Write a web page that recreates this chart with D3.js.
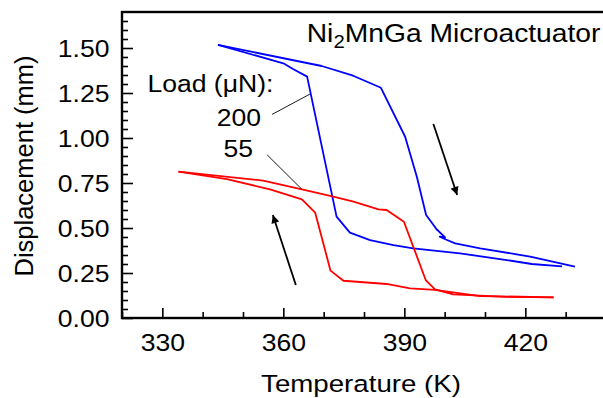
<!DOCTYPE html>
<html>
<head>
<meta charset="utf-8">
<script src="https://cdn.jsdelivr.net/npm/d3@7"></script>
<style>
  html, body { margin: 0; padding: 0; background: #fff; }
  svg { display: block; font-family: "Liberation Sans", Arial, Helvetica, sans-serif; }
</style>
</head>
<body>
<svg id="chart" width="603" height="398"></svg>
<script>
// ---------- data ----------
// 200 µN load, heating branch (upper, goes right then drops)
const heat200T = [343.8, 369.5, 377.3, 384.2, 390.2, 393.1, 395.4, 398.0, 400.1, 398.8, 400.3, 402.6, 408.8, 421.2, 432.3];
const heat200D = [1.517, 1.400, 1.346, 1.279, 1.007, 0.785, 0.572, 0.493, 0.448, 0.452, 0.436, 0.415, 0.387, 0.341, 0.285];
// 200 µN load, cooling branch (lower, goes left then rises)
const cool200T = [429.1, 421.6, 415.4, 403.8, 392.2, 387.3, 381.5, 376.5, 373.2, 365.9, 362.4, 360.0, 343.8];
const cool200D = [0.287, 0.300, 0.322, 0.359, 0.387, 0.405, 0.433, 0.474, 0.563, 1.341, 1.383, 1.415, 1.517];
// 55 µN load, heating branch
const heat55T = [334.0, 355.0, 364.6, 372.4, 377.4, 383.6, 385.6, 389.9, 395.3, 397.6, 402.1, 415.4, 427.0];
const heat55D = [0.813, 0.763, 0.715, 0.674, 0.646, 0.604, 0.600, 0.535, 0.211, 0.159, 0.131, 0.117, 0.115];
// 55 µN load, cooling branch
const cool55T = [427.0, 408.8, 397.6, 391.4, 385.6, 374.9, 371.7, 367.9, 364.6, 356.7, 346.0, 334.0];
const cool55D = [0.115, 0.122, 0.156, 0.165, 0.189, 0.207, 0.263, 0.585, 0.659, 0.715, 0.771, 0.813];

const xMajorTicks = [330, 360, 390, 420];
const xMinorTicks = [320, 340, 350, 370, 380, 400, 410, 430, 440];
const yMajorTicks = [0.00, 0.25, 0.50, 0.75, 1.00, 1.25, 1.50];
const yMinorTicks = [0.05,0.10,0.15,0.20,0.30,0.35,0.40,0.45,0.55,0.60,0.65,0.70,0.80,0.85,0.90,0.95,1.05,1.10,1.15,1.20,1.30,1.35,1.40,1.45,1.55,1.60,1.65];

const xTitle = "Temperature (K)";
const yTitle = "Displacement (mm)";
const loadLabel = "Load (μN):";
const loadValues = ["200", "55"];

// ---------- layout ----------
const W = 603, H = 398;
const margin = { left: 122, top: 12, bottomY: 318, rightX: 606 };
const SX = 1.13; // horizontal stretch of the reference's lettering

const svg = d3.select("#chart");
const x = d3.scaleLinear().domain([320, 440]).range([margin.left, margin.rightX]);
const y = d3.scaleLinear().domain([0, 1.7]).range([margin.bottomY, margin.top]);

// ---------- axes ----------
function styleAxis(g) {
  g.select(".domain").remove();
  g.selectAll(".tick line").attr("stroke", "#000").attr("stroke-width", 1.6);
}

// x minor
svg.append("g").attr("transform", `translate(0,${margin.bottomY})`)
  .call(d3.axisBottom(x).tickValues(xMinorTicks).tickFormat("").tickSizeInner(-6).tickSizeOuter(0))
  .call(styleAxis);
// x major
const gx = svg.append("g").attr("transform", `translate(0,${margin.bottomY})`)
  .call(d3.axisBottom(x).tickValues(xMajorTicks).tickFormat(d3.format("d")).tickSizeInner(-10).tickSizeOuter(0))
  .call(styleAxis);
gx.selectAll(".tick text")
  .attr("fill", "#000").attr("font-size", 23.5)
  .attr("font-family", "Liberation Sans, Arial, sans-serif")
  .attr("dy", 0).attr("y", 33)
  .attr("transform", `scale(${SX},1)`);

// y minor
svg.append("g").attr("transform", `translate(${margin.left},0)`)
  .call(d3.axisLeft(y).tickValues(yMinorTicks).tickFormat("").tickSizeInner(-6).tickSizeOuter(0))
  .call(styleAxis);
// y major
const gy = svg.append("g").attr("transform", `translate(${margin.left},0)`)
  .call(d3.axisLeft(y).tickValues(yMajorTicks).tickFormat(d3.format(".2f")).tickSizeInner(-11).tickSizeOuter(0))
  .call(styleAxis);
gy.selectAll(".tick text")
  .attr("fill", "#000").attr("font-size", 23.5)
  .attr("font-family", "Liberation Sans, Arial, sans-serif")
  .attr("x", -12.5 / SX).attr("dy", "0.35em")
  .attr("transform", `scale(${SX},1)`);

// frame
svg.append("rect")
  .attr("x", x(320)).attr("y", y(1.7))
  .attr("width", x(440) - x(320)).attr("height", y(0) - y(1.7))
  .attr("fill", "none").attr("stroke", "#000").attr("stroke-width", 2.4);

// ---------- curves ----------
const line = d3.line().x(d => x(d[0])).y(d => y(d[1]));
function drawSeries(T, D, color) {
  svg.append("path")
    .datum(d3.zip(T, D))
    .attr("d", line)
    .attr("fill", "none")
    .attr("stroke", color)
    .attr("stroke-width", 1.8)
    .attr("stroke-linejoin", "round");
}
drawSeries(heat200T, heat200D, "#0000ff");
drawSeries(cool200T, cool200D, "#0000ff");
drawSeries(heat55T, heat55D, "#ff0000");
drawSeries(cool55T, cool55D, "#ff0000");

// ---------- annotations ----------
const defs = svg.append("defs");
defs.append("marker")
  .attr("id", "ah").attr("viewBox", "0 0 10 10")
  .attr("refX", 10).attr("refY", 5)
  .attr("markerWidth", 5.5).attr("markerHeight", 4.5)
  .attr("markerUnits", "strokeWidth")
  .attr("orient", "auto")
  .append("path").attr("d", "M0,0 L10,5 L0,10 Z").attr("fill", "#000");

// direction arrows [T1, D1, T2, D2]
const arrowHeat = [397.2, 1.078, 403.1, 0.683];
const arrowCool = [363.1, 0.183, 357.4, 0.572];
[arrowHeat, arrowCool].forEach(a => {
  svg.append("line")
    .attr("x1", x(a[0])).attr("y1", y(a[1]))
    .attr("x2", x(a[2])).attr("y2", y(a[3]))
    .attr("stroke", "#000").attr("stroke-width", 1.8)
    .attr("marker-end", "url(#ah)");
});

// leader lines from the load labels to the curves
const leader200 = [357.2, 1.131, 366.6, 1.244];
const leader55 = [356.0, 0.906, 364.6, 0.715];
[leader200, leader55].forEach(a => {
  svg.append("line")
    .attr("x1", x(a[0])).attr("y1", y(a[1]))
    .attr("x2", x(a[2])).attr("y2", y(a[3]))
    .attr("stroke", "#000").attr("stroke-width", 0.9);
});

function stretchedText(px, py, anchor, size) {
  return svg.append("g").attr("transform", `translate(${px},${py}) scale(${SX},1)`)
    .append("text").attr("x", 0).attr("y", 0)
    .attr("text-anchor", anchor).attr("font-size", size).attr("fill", "#000");
}

// title  Ni2MnGa Microactuator
const title = stretchedText(x(365.8), y(1.535), "start", 25);
title.append("tspan").text("Ni");
title.append("tspan").attr("font-size", 18).attr("dy", 6.5).text("2");
title.append("tspan").attr("dy", -6.5).text("MnGa Microactuator");

// load labels
stretchedText(x(326.3), y(1.257), "start", 23.5).text(loadLabel);
stretchedText(x(349.0), y(1.068), "middle", 23.5).text(loadValues[0]);
stretchedText(x(348.8), y(0.896), "middle", 23.5).text(loadValues[1]);

// axis titles
stretchedText((x(320) + x(440)) / 2 - 3, 392, "middle", 24.5).text(xTitle);
svg.append("text")
  .attr("transform", `translate(33,${(y(0) + y(1.7)) / 2 + 1}) rotate(-90)`)
  .attr("text-anchor", "middle").attr("font-size", 25.5).attr("fill", "#000")
  .text(yTitle);
</script>
</body>
</html>
